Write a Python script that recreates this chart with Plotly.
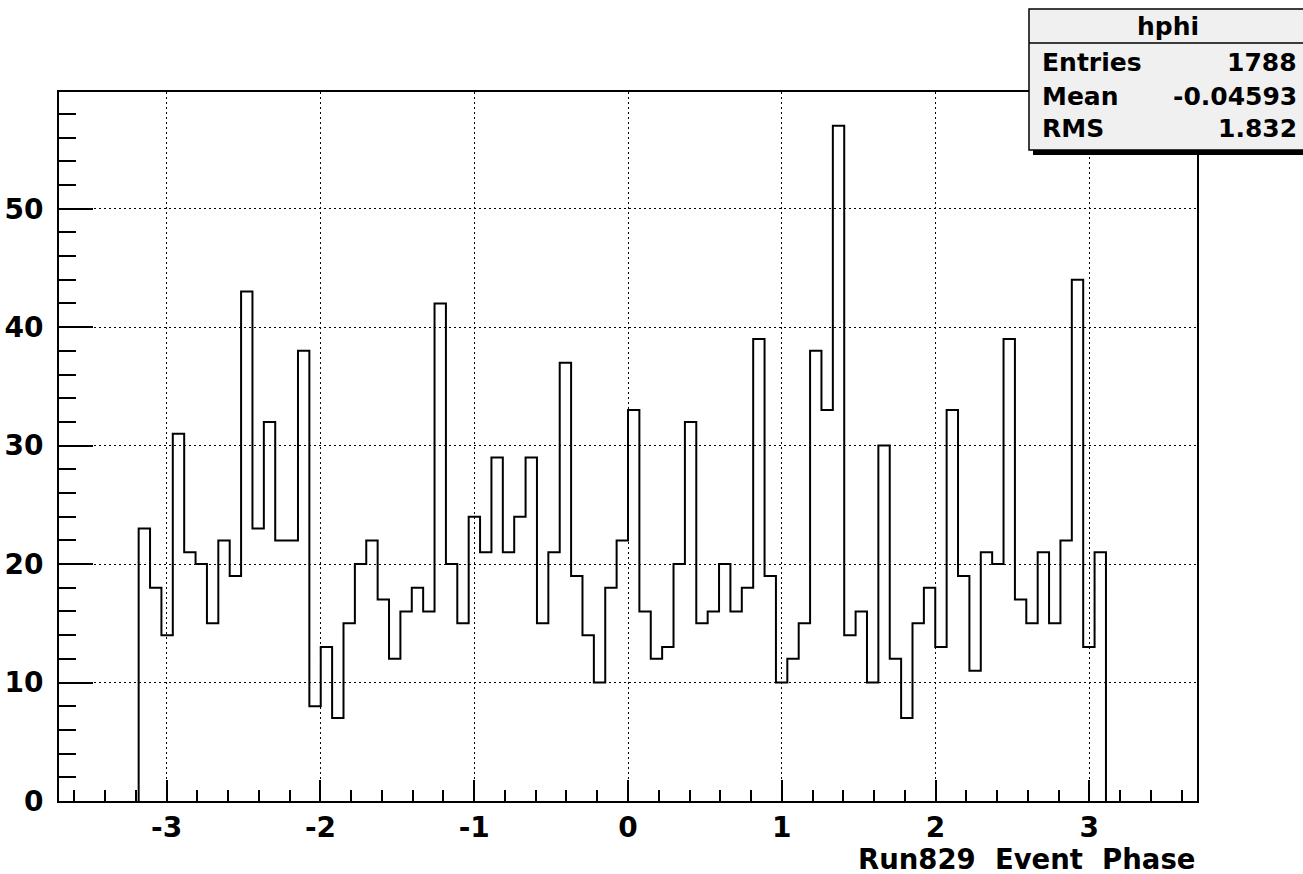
import plotly.graph_objects as go

# ---------------- data ----------------
hist_name = "hphi"
x_title = "Run829\u00a0 Event\u00a0 Phase"
x_low = -3.7
x_up = 3.7
n_bins = 100
first_filled_bin = 7
counts = [23, 18, 14, 31, 21, 20, 15, 22, 19, 43,
          23, 32, 22, 22, 38, 8, 13, 7, 15, 20,
          22, 17, 12, 16, 18, 16, 42, 20, 15, 24,
          21, 29, 21, 24, 29, 15, 21, 37, 19, 14,
          10, 18, 22, 33, 16, 12, 13, 20, 32, 15,
          16, 20, 16, 18, 39, 19, 10, 12, 15, 38,
          33, 57, 14, 16, 10, 30, 12, 7, 15, 18,
          13, 33, 19, 11, 21, 20, 39, 17, 15, 21,
          15, 22, 44, 13, 21]
x_tick_vals = [-3, -2, -1, 0, 1, 2, 3]
y_tick_vals = [0, 10, 20, 30, 40, 50]
stat_labels = ["Entries", "Mean", "RMS"]
stat_values = ["1788", "-0.04593", "1.832"]

# ---------------- geometry ----------------
W, H = 1303, 874
L, R, T, B = 59, 1197, 92, 801


def px(x):
    return (x - L) / (R - L)


def py(y):
    return (B - y) / (B - T)


bw = (x_up - x_low) / n_bins
edges = [x_low + (first_filled_bin + i) * bw for i in range(len(counts) + 1)]
xs = [edges[0]] + edges[:-1] + [edges[-1]]
ys = [0] + counts + [0]
y_max = 1.05 * max(counts)

FONT = "DejaVu Sans"

fig = go.Figure()
fig.add_trace(go.Scatter(x=xs, y=ys, mode="lines", line=dict(shape="hv", color="black", width=2),
                         hoverinfo="skip", showlegend=False))

axis_common = dict(
    showline=True, linecolor="black", linewidth=2, mirror=True,
    ticks="inside", tickcolor="black", tickwidth=1.5,
    showgrid=True, gridcolor="black", gridwidth=1.2, griddash="2px,3px",
    zeroline=False, automargin=False,
    tickfont=dict(family=FONT, size=28, color="black", weight="bold"),
)

fig.update_xaxes(range=[x_low, x_up], tickmode="array", tickvals=x_tick_vals,
                 ticktext=[str(v) for v in x_tick_vals], ticklen=21,
                 minor=dict(dtick=0.2, tick0=0, ticklen=11, ticks="inside", tickcolor="black",
                            tickwidth=1.5, showgrid=False),
                 ticklabelstandoff=0, **axis_common)
fig.update_yaxes(range=[0, y_max], tickmode="array", tickvals=y_tick_vals,
                 ticktext=[str(v) for v in y_tick_vals], ticklen=34,
                 minor=dict(dtick=2, tick0=0, ticklen=17, ticks="inside", tickcolor="black",
                            tickwidth=1.5, showgrid=False),
                 ticklabelstandoff=8, **axis_common)

# stat box
shapes = [
    dict(type="rect", xref="paper", yref="paper", x0=px(1033), x1=px(1320), y0=py(155), y1=py(146),
         fillcolor="black", line=dict(width=0), layer="above"),
    dict(type="rect", xref="paper", yref="paper", x0=px(1029), x1=px(1320), y0=py(150), y1=py(9),
         fillcolor="#f0f0f0", line=dict(color="black", width=1.5), layer="above"),
    dict(type="line", xref="paper", yref="paper", x0=px(1029), x1=px(1320), y0=py(43), y1=py(43),
         line=dict(color="black", width=1.5), layer="above"),
]
annotations = [
    dict(text=hist_name, x=px(1168), y=py(27), xref="paper", yref="paper", xanchor="center",
         yanchor="middle", showarrow=False, font=dict(family=FONT, size=25, color="black", weight="bold")),
]
row_y = [62, 96, 128]
for lab, val, yy in zip(stat_labels, stat_values, row_y):
    annotations.append(dict(text=lab, x=px(1040), y=py(yy), xref="paper", yref="paper", xanchor="left",
                            yanchor="middle", showarrow=False,
                            font=dict(family=FONT, size=25, color="black", weight="bold")))
    annotations.append(dict(text=val, x=px(1299), y=py(yy), xref="paper", yref="paper", xanchor="right",
                            yanchor="middle", showarrow=False,
                            font=dict(family=FONT, size=25, color="black", weight="bold")))
annotations.append(dict(text=x_title, x=1.0, y=py(859), xref="paper", yref="paper", xanchor="right",
                        yanchor="middle", showarrow=False,
                        font=dict(family=FONT, size=27.5, color="black", weight="bold")))

fig.update_layout(width=W, height=H, autosize=False,
                  margin=dict(l=L, r=W - R, t=T, b=H - B, pad=0, autoexpand=False),
                  paper_bgcolor="white", plot_bgcolor="white",
                  shapes=shapes, annotations=annotations, showlegend=False)

fig.write_html("out.html", config={"displayModeBar": False},
               post_script="document.body.style.margin='0';")
